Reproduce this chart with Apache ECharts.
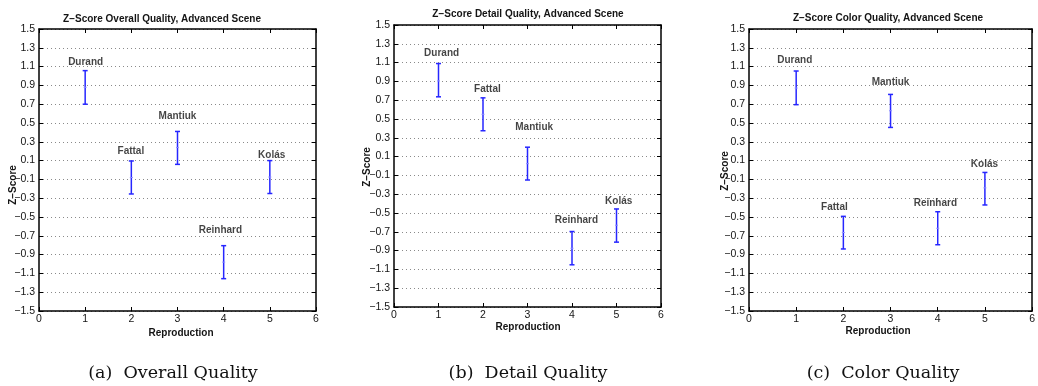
<!DOCTYPE html>
<html>
<head>
<meta charset="utf-8">
<script src="https://cdn.jsdelivr.net/npm/echarts@6/dist/echarts.min.js"></script>
<style>
  html, body { margin: 0; padding: 0; background: #fff; }
  #zscore { width: 1038px; height: 386px; }
</style>
</head>
<body>
<div id="zscore"></div>
<script>
  // reproductions, in x order
  const methods = ['Durand', 'Fattal', 'Mantiuk', 'Reinhard', 'Kolás'];
  const methodX = [1, 2, 3, 4, 5];
  const xTicks = [0, 1, 2, 3, 4, 5, 6];
  const yTicks = [-1.5, -1.3, -1.1, -0.9, -0.7, -0.5, -0.3, -0.1, 0.1, 0.3, 0.5, 0.7, 0.9, 1.1, 1.3, 1.5];

  // (a) overall quality
  const overallLow = [0.70, -0.255, 0.06, -1.156, -0.25];
  const overallHigh = [1.057, 0.096, 0.41, -0.805, 0.10];
  const overallMean = [0.88, -0.08, 0.24, -0.98, -0.075];
  const overallLabelX = [1.01, 1.99, 3.0, 3.93, 5.04];
  const overallLabelY = [1.15, 0.195, 0.567, -0.646, 0.152];

  // (b) detail quality
  const detailLow = [0.736, 0.375, -0.149, -1.051, -0.81];
  const detailHigh = [1.09, 0.725, 0.20, -0.697, -0.457];
  const detailMean = [0.905, 0.55, 0.025, -0.875, -0.63];
  const detailLabelX = [1.07, 2.1, 3.15, 4.1, 5.05];
  const detailLabelY = [1.196, 0.817, 0.41, -0.58, -0.37];

  // (c) color quality
  const colorLow = [0.695, -0.84, 0.453, -0.795, -0.372];
  const colorHigh = [1.053, -0.493, 0.804, -0.444, -0.026];
  const colorMean = [0.872, -0.665, 0.63, -0.62, -0.19];
  const colorLabelX = [0.97, 1.81, 3.0, 3.95, 4.99];
  const colorLabelY = [1.166, -0.394, 0.932, -0.351, 0.064];

  const titles = [
    'Z\u2212Score Overall Quality, Advanced Scene',
    'Z\u2212Score Detail Quality, Advanced Scene',
    'Z\u2212Score Color Quality, Advanced Scene'
  ];
  const captions = ['(a)  Overall Quality', '(b)  Detail Quality', '(c)  Color Quality'];

  var sansFont = '"Liberation Sans", Arial, sans-serif';
  var barColor = '#2626ff';
  var textColor = '#141414';

  // plot boxes, pixels
  var boxes = [
    { left: 39, top: 29, width: 277, height: 282 },
    { left: 394, top: 25, width: 267, height: 282 },
    { left: 749, top: 29, width: 288, height: 282 }
  ];
  // text anchors: title, y name, x name, caption
  var textPos = [
    { title: [162, 19], yName: [13, 185], xName: [181, 333], caption: [173, 373] },
    { title: [528, 14], yName: [367, 167], xName: [528, 327], caption: [528, 373] },
    { title: [888, 18], yName: [725, 171], xName: [878, 331], caption: [883, 373] }
  ];

  function minusFmt(v) {
    return Number(v).toFixed(1).replace('-', '\u2212');
  }

  function errorBarItem(params, api) {
    var x = api.value(0);
    var lo = api.coord([x, api.value(1)]);
    var hi = api.coord([x, api.value(2)]);
    var mid = api.coord([x, api.value(3)]);
    var cap = 2.5;
    var style = { stroke: barColor, lineWidth: 1.5 };
    return {
      type: 'group',
      children: [
        { type: 'line', shape: { x1: hi[0], y1: hi[1], x2: lo[0], y2: lo[1] }, style: style },
        { type: 'line', shape: { x1: hi[0] - cap, y1: hi[1], x2: hi[0] + cap, y2: hi[1] }, style: style },
        { type: 'line', shape: { x1: lo[0] - cap, y1: lo[1], x2: lo[0] + cap, y2: lo[1] }, style: style },
        { type: 'line', shape: { x1: mid[0] - 1.5, y1: mid[1], x2: mid[0] + 1.5, y2: mid[1] },
          style: { stroke: '#8c8cff', lineWidth: 1 } }
      ]
    };
  }

  var panels = [
    { low: overallLow, high: overallHigh, mean: overallMean, lx: overallLabelX, ly: overallLabelY },
    { low: detailLow, high: detailHigh, mean: detailMean, lx: detailLabelX, ly: detailLabelY },
    { low: colorLow, high: colorHigh, mean: colorMean, lx: colorLabelX, ly: colorLabelY }
  ];

  var grid = [], xAxis = [], yAxis = [], series = [], graphic = [];

  panels.forEach(function (p, i) {
    grid.push(Object.assign({ containLabel: false }, boxes[i]));

    var xBase = {
      type: 'value',
      gridIndex: i,
      min: xTicks[0],
      max: xTicks[xTicks.length - 1],
      interval: 1,
      axisLine: { show: true, onZero: false, lineStyle: { color: '#000', width: 1.5 } },
      axisTick: { show: true, inside: true, length: 4, lineStyle: { color: '#000' } },
      splitLine: { show: false }
    };
    xAxis.push(Object.assign({}, xBase, {
      position: 'bottom',
      axisLabel: { show: true, margin: 3, fontSize: 10.5, color: textColor, fontFamily: sansFont }
    }));
    xAxis.push(Object.assign({}, xBase, { position: 'top', axisLabel: { show: false } }));

    var yBase = {
      type: 'value',
      gridIndex: i,
      min: yTicks[0],
      max: yTicks[yTicks.length - 1],
      axisLine: { show: true, onZero: false, lineStyle: { color: '#000', width: 1.5 } },
      axisTick: { show: true, inside: true, length: 4, customValues: yTicks, lineStyle: { color: '#000' } }
    };
    yAxis.push(Object.assign({}, yBase, {
      position: 'left',
      axisLabel: {
        show: true, margin: 4, fontSize: 10.5, color: textColor, fontFamily: sansFont,
        customValues: yTicks, formatter: minusFmt
      },
      splitLine: { show: true, lineStyle: { color: '#8a8a8a', width: 1, type: [1, 3] } }
    }));
    yAxis.push(Object.assign({}, yBase, {
      position: 'right',
      axisLabel: { show: false },
      splitLine: { show: false }
    }));

    series.push({
      type: 'custom',
      xAxisIndex: i * 2,
      yAxisIndex: i * 2,
      renderItem: errorBarItem,
      encode: { x: 0, y: [1, 2] },
      silent: true,
      data: methodX.map(function (x, k) { return [x, p.low[k], p.high[k], p.mean[k]]; })
    });
    series.push({
      type: 'scatter',
      xAxisIndex: i * 2,
      yAxisIndex: i * 2,
      symbolSize: 0,
      silent: true,
      label: {
        show: true,
        position: 'inside',
        formatter: function (q) { return q.data[2]; },
        fontSize: 10,
        fontWeight: 'bold',
        color: textColor,
        fontFamily: sansFont
      },
      data: p.lx.map(function (x, k) { return [x, p.ly[k], methods[k]]; })
    });

    var t = textPos[i];
    var boldText = { fontSize: 10, fontWeight: 'bold', fill: textColor, fontFamily: sansFont,
      align: 'center', verticalAlign: 'middle', textAlign: 'center', textVerticalAlign: 'middle' };
    graphic.push({ type: 'text', x: t.title[0], y: t.title[1],
      style: Object.assign({ text: titles[i] }, boldText) });
    graphic.push({ type: 'text', x: t.xName[0], y: t.xName[1],
      style: Object.assign({ text: 'Reproduction' }, boldText) });
    graphic.push({ type: 'text', x: t.yName[0], y: t.yName[1], rotation: Math.PI / 2,
      style: Object.assign({ text: 'Z\u2212Score' }, boldText) });
    graphic.push({ type: 'text', x: t.caption[0], y: t.caption[1],
      style: { text: captions[i], fontSize: 17.5, fill: '#111', fontFamily: '"DejaVu Serif", serif',
        align: 'center', verticalAlign: 'middle', textAlign: 'center', textVerticalAlign: 'middle' } });
  });

  var chartDom = document.getElementById('zscore');
  var zChart = echarts.init(chartDom, null, { renderer: 'canvas' });
  var option = {
    backgroundColor: '#fff',
    animation: false,
    grid: grid,
    xAxis: xAxis,
    yAxis: yAxis,
    series: series,
    graphic: graphic
  };
  zChart.setOption(option);
</script>
</body>
</html>
